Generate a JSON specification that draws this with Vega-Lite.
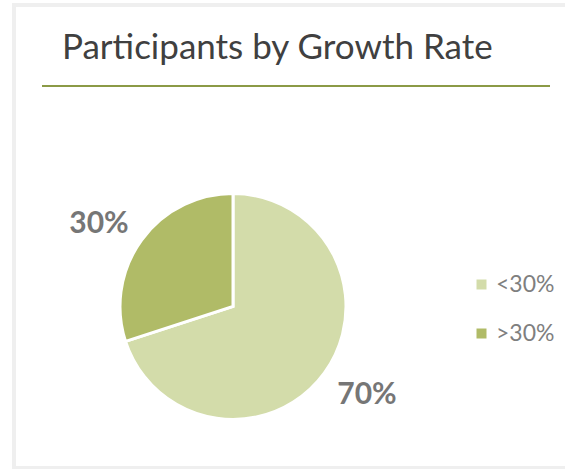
{
  "$schema": "https://vega.github.io/schema/vega-lite/v6.json",
  "width": 554,
  "height": 463,
  "autosize": {"type": "none"},
  "padding": {"left": 14, "top": 5, "right": -3, "bottom": 1},
  "background": "white",
  "view": {"stroke": "#efefef", "strokeWidth": 4, "fill": "white"},
  "title": {
    "text": "Participants by Growth Rate",
    "orient": "top",
    "anchor": "start",
    "frame": "group",
    "offset": 0,
    "dx": 48,
    "dy": 89,
    "baseline": "alphabetic",
    "font": "Lato",
    "fontSize": 35,
    "fontWeight": "normal",
    "color": "#404040"
  },
  "data": {
    "values": [
      {"group": "<30%", "share": 0.7},
      {"group": ">30%", "share": 0.3}
    ]
  },
  "layer": [
    {
      "data": {"values": [{"item": "title rule"}]},
      "mark": {"type": "rule", "color": "#8b9a46", "strokeWidth": 2},
      "encoding": {
        "x": {"datum": 28, "type": "quantitative", "scale": {"domain": [0, 554], "nice": false, "zero": false}, "axis": null},
        "x2": {"datum": 536},
        "y": {"datum": 81, "type": "quantitative", "scale": {"domain": [0, 463], "reverse": true, "nice": false, "zero": false}, "axis": null}
      }
    },
    {
      "mark": {"type": "arc", "outerRadius": 113, "stroke": "white", "strokeWidth": 3},
      "encoding": {
        "theta": {"field": "share", "type": "quantitative", "stack": true},
        "order": {"field": "group", "sort": "ascending"},
        "color": {
          "field": "group",
          "type": "nominal",
          "scale": {"domain": ["<30%", ">30%"], "range": ["#d3dcaa", "#b0bb67"]},
          "legend": {
            "title": null,
            "orient": "none",
            "legendX": 456,
            "legendY": 268,
            "symbolType": "square",
            "symbolSize": 100,
            "symbolStrokeWidth": 0,
            "labelFont": "Lato",
            "labelFontSize": 23,
            "labelColor": "#7f7f7f",
            "labelOffset": 3,
            "rowPadding": 25,
            "padding": 0
          }
        },
        "x": {"datum": 219, "type": "quantitative"},
        "y": {"datum": 301.5, "type": "quantitative"}
      }
    },
    {
      "mark": {"type": "text", "radius": 159, "thetaOffset": -0.06, "dy": 3, "font": "Lato", "fontSize": 30, "fontWeight": "bold", "color": "#767676"},
      "encoding": {
        "theta": {"field": "share", "type": "quantitative", "stack": true},
        "order": {"field": "group", "sort": "ascending"},
        "text": {"field": "share", "type": "quantitative", "format": ".0%"},
        "x": {"datum": 219, "type": "quantitative"},
        "y": {"datum": 301.5, "type": "quantitative"}
      }
    }
  ]
}
